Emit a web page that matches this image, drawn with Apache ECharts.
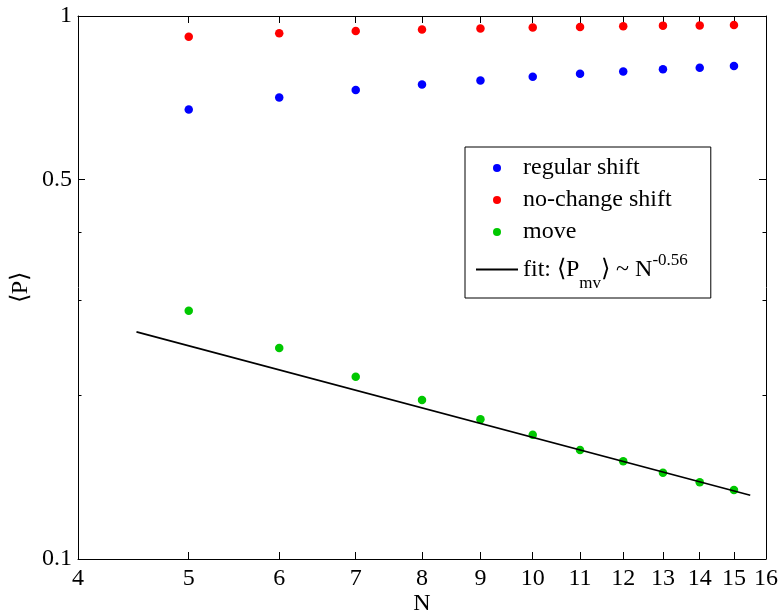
<!DOCTYPE html>
<html>
<head>
<meta charset="utf-8">
<script src="https://cdn.jsdelivr.net/npm/echarts@6/dist/echarts.min.js"></script>
<style>html,body{margin:0;padding:0;background:#fff}#c{width:779px;height:615px}</style>
</head>
<body>
<div id="c"></div>
<script>
const N = [5, 6, 7, 8, 9, 10, 11, 12, 13, 14, 15];
const regularShift = [0.673, 0.708, 0.731, 0.748, 0.761, 0.773, 0.783, 0.790, 0.798, 0.803, 0.809];
const noChangeShift = [0.916, 0.929, 0.938, 0.944, 0.948, 0.952, 0.954, 0.957, 0.960, 0.961, 0.963];
const move = [0.2866, 0.2446, 0.2166, 0.1963, 0.1808, 0.1694, 0.1588, 0.1513, 0.1442, 0.1384, 0.1340];
const fitN = [4.5, 15.5];
const fitP = [0.262, 0.131];
const xTicks = [4, 5, 6, 7, 8, 9, 10, 11, 12, 13, 14, 15, 16];
const yMajor = [0.1, 0.5, 1];
const yMinor = [0.2, 0.3, 0.4];

const FONT = 'Liberation Serif';
const pair = (xs, ys) => xs.map((x, i) => [x, ys[i]]);

const baseX = {
  type: 'log', min: 4, max: 16,
  splitLine: { show: false },
  axisLine: { show: true, lineStyle: { color: '#000', width: 1 } },
  axisTick: { show: true, inside: true, length: 7, customValues: xTicks, lineStyle: { color: '#000' } }
};
const baseY = {
  type: 'log', min: 0.1, max: 1,
  splitLine: { show: false }
};

const chart = echarts.init(document.getElementById('c'), null, { renderer: 'canvas' });
chart.setOption({
  animation: false,
  backgroundColor: '#fff',
  grid: { left: 78, right: 13, top: 16, bottom: 56, containLabel: false, outerBoundsMode: 'none' },
  xAxis: [
    Object.assign({}, baseX, {
      position: 'bottom',
      name: 'N', nameLocation: 'middle', nameGap: 33, nameMoveOverlap: false,
      nameTextStyle: { fontFamily: FONT, fontSize: 24, color: '#000' },
      axisLabel: { show: true, margin: 8, customValues: xTicks, fontFamily: FONT, fontSize: 24, color: '#000',
        formatter: v => String(Math.round(v)) }
    }),
    Object.assign({}, baseX, { position: 'top', axisLabel: { show: false } })
  ],
  yAxis: [
    Object.assign({}, baseY, {
      position: 'left',
      name: '\u27E8P\u27E9', nameLocation: 'middle', nameGap: 45, nameMoveOverlap: false,
      nameTextStyle: { fontFamily: FONT, fontSize: 24, color: '#000' },
      axisLine: { show: true, lineStyle: { color: '#000', width: 1 } },
      axisTick: { show: true, inside: true, length: 7, customValues: yMajor, lineStyle: { color: '#000' } },
      axisLabel: { show: true, margin: 6, customValues: yMajor, fontFamily: FONT, fontSize: 24, color: '#000',
        formatter: v => String(+(+v).toPrecision(3)) }
    }),
    Object.assign({}, baseY, {
      position: 'right',
      axisLine: { show: true, lineStyle: { color: '#000', width: 1 } },
      axisTick: { show: true, inside: true, length: 7, customValues: yMajor, lineStyle: { color: '#000' } },
      axisLabel: { show: false }
    }),
    Object.assign({}, baseY, {
      position: 'left',
      axisLine: { show: false },
      axisTick: { show: true, inside: true, length: 3.5, customValues: yMinor, lineStyle: { color: '#000' } },
      axisLabel: { show: false }
    }),
    Object.assign({}, baseY, {
      position: 'right',
      axisLine: { show: false },
      axisTick: { show: true, inside: true, length: 3.5, customValues: yMinor, lineStyle: { color: '#000' } },
      axisLabel: { show: false }
    })
  ],
  legend: {
    orient: 'vertical',
    left: 465, top: 147,
    padding: [9, 23, 6, 10],
    itemGap: 8,
    itemWidth: 42, itemHeight: 8,
    backgroundColor: '#fff',
    borderColor: '#000', borderWidth: 1,
    data: ['regular shift', 'no-change shift', 'move',
      { name: 'fit', itemStyle: { color: 'rgba(0,0,0,0)', borderWidth: 0, opacity: 0 } }],
    formatter: name => name === 'fit'
      ? '{n|fit: \u27E8P}{sub|mv}{n|\u27E9 ~ N}{sup|-0.56}'
      : name,
    textStyle: {
      fontFamily: FONT, fontSize: 24, color: '#000',
      rich: {
        n: { fontFamily: FONT, fontSize: 24, color: '#000' },
        sub: { fontFamily: FONT, fontSize: 17, color: '#000', padding: [28, 0, 0, 0] },
        sup: { fontFamily: FONT, fontSize: 17, color: '#000', padding: [0, 0, 18, 0] }
      }
    }
  },
  series: [
    { name: 'regular shift', type: 'scatter', data: pair(N, regularShift), symbol: 'circle', symbolSize: 8.5,
      itemStyle: { color: '#0000ff', opacity: 1 } },
    { name: 'no-change shift', type: 'scatter', data: pair(N, noChangeShift), symbol: 'circle', symbolSize: 8.5,
      itemStyle: { color: '#ff0000', opacity: 1 } },
    { name: 'move', type: 'scatter', data: pair(N, move), symbol: 'circle', symbolSize: 8.5,
      itemStyle: { color: '#00c800', opacity: 1 } },
    { name: 'fit', type: 'line', data: pair(fitN, fitP), symbol: 'none', showSymbol: false,
      lineStyle: { color: '#000', width: 1.6 }, itemStyle: { color: '#000' } }
  ]
});
</script>
</body>
</html>
